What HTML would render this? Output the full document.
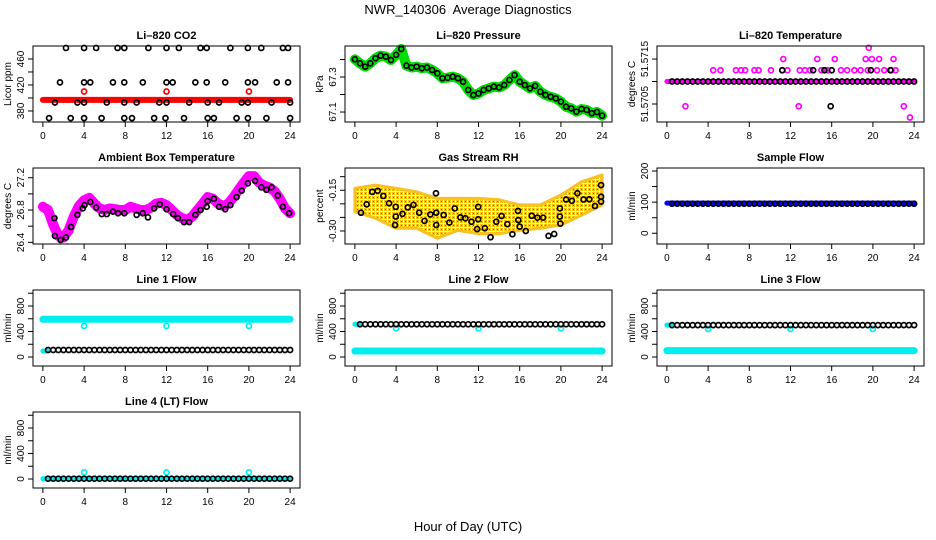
<!DOCTYPE html>
<html><head><meta charset="utf-8"><title>NWR_140306 Average Diagnostics</title>
<style>
html,body{margin:0;padding:0;background:#fff;}
svg{display:block;font-family:"Liberation Sans",Arial,sans-serif;}
</style></head>
<body>
<svg id="chart" width="936" height="540" viewBox="0 0 936 540" xmlns="http://www.w3.org/2000/svg">
<defs>
<pattern id="rhpat" width="4" height="4" patternUnits="userSpaceOnUse">
<rect width="4" height="4" fill="#fff4c0"/>
<rect x="0" y="0" width="3" height="3" fill="#f8c400"/>
<rect x="1" y="1" width="1" height="1" fill="#e83000"/>
</pattern>
</defs>
<rect x="0" y="0" width="936" height="540" fill="#fff"/>
<text x="468" y="14" text-anchor="middle" font-size="13" xml:space="preserve">NWR_140306  Average Diagnostics</text>
<text x="468" y="531" text-anchor="middle" font-size="13">Hour of Day (UTC)</text>
</svg>
<script>
// ---------- data ----------
const xTicks = [0,4,8,12,16,20,24];
const H49 = [0,0.5,1,1.5,2,2.5,3,3.5,4,4.5,5,5.5,6,6.5,7,7.5,8,8.5,9,9.5,10,10.5,11,11.5,12,12.5,13,13.5,14,14.5,15,15.5,16,16.5,17,17.5,18,18.5,19,19.5,20,20.5,21,21.5,22,22.5,23,23.5,24];
const halfHours = [0.5,1,1.5,2,2.5,3,3.5,4,4.5,5,5.5,6,6.5,7,7.5,8,8.5,9,9.5,10,10.5,11,11.5,12,12.5,13,13.5,14,14.5,15,15.5,16,16.5,17,17.5,18,18.5,19,19.5,20,20.5,21,21.5,22,22.5,23,23.5,24];
const bandHours = [0,4,8,12,16,20,24];
const spikeHours = [4,12,20];

// CO2
const co2RedBand = [397,397,397,397,397,397,397];
const co2RedSpike = [410,410,410];
const co2BlackHours = [2.24,4.0,5.17,7.25,7.9,10.24,12.0,13.2,15.3,15.9,18.2,19.9,21.2,23.3,23.8,
 1.66,4.0,4.6,6.8,7.9,9.7,12.0,12.6,14.8,15.9,17.7,19.9,20.6,22.7,23.8,
 1.17,3.35,4.0,6.2,7.9,9.1,11.3,12.0,14.2,16.0,17.1,19.3,19.9,22.2,24,
 0.6,2.7,4.0,5.7,7.9,8.65,10.8,11.9,13.7,16.0,16.6,18.8,19.9,21.7,24];
const co2BlackVals = [477,477,477,477,477,477,477,477,477,477,477,477,477,477,477,
 424,424,424,424,424,424,424,424,424,424,424,424,424,424,424,
 393,393,393,393,393,393,393,393,393,393,393,393,393,393,393,
 369,369,369,369,369,369,369,369,369,369,369,369,369,369,369];

// Pressure
const pressureVals = [67.401,67.378,67.359,67.378,67.407,67.422,67.416,67.397,67.426,67.460,67.365,67.354,67.359,67.350,67.354,67.340,67.321,67.293,67.296,67.302,67.293,67.273,67.226,67.197,67.206,67.226,67.235,67.245,67.240,67.254,67.283,67.311,67.273,67.254,67.235,67.249,67.216,67.197,67.187,67.178,67.159,67.130,67.121,67.102,67.117,67.112,67.093,67.100,67.079];

// Li-820 temperature
const tempBand = [51.571,51.571,51.571,51.571,51.571,51.571,51.571];
const tempBlack = [51.571,51.571,51.571,51.571,51.571,51.571,51.571,51.571,51.571,51.571,51.571,51.571,51.571,51.571,51.571,51.571,51.571,51.571,51.571,51.571,51.571,51.571,51.571,51.571,51.571,51.571,51.571,51.571,51.571,51.571,51.571,51.571,51.571,51.571,51.571,51.571,51.571,51.571,51.571,51.571,51.571,51.571,51.571,51.571,51.571,51.571,51.571,51.571];
const tempMagHours = [4.5,5.2,6.7,7.2,7.6,8.5,8.9,10.1,11.2,11.7,12.9,13.4,13.9,15.0,15.6,16.9,17.5,18.2,18.8,19.5,20.4,21.1,21.8,22.2,
 11.3,14.6,16.3,19.3,19.9,20.6,22.0, 19.6, 1.8,12.8,23.0, 23.6];
const tempMagVals = [51.57125,51.57125,51.57125,51.57125,51.57125,51.57125,51.57125,51.57125,51.57125,51.57125,51.57125,51.57125,51.57125,51.57125,51.57125,51.57125,51.57125,51.57125,51.57125,51.57125,51.57125,51.57125,51.57125,51.57125,
 51.5715,51.5715,51.5715,51.5715,51.5715,51.5715,51.5715, 51.57175, 51.57045,51.57045,51.57045, 51.5702];
const tempBlkHours = [11.2,14.2,15.3,16.0,19.8,21.7,15.9];
const tempBlkVals = [51.57125,51.57125,51.57125,51.57125,51.57125,51.57125,51.57045];

// Ambient box temperature
const ambBand = [26.84,26.80,26.62,26.48,26.46,26.55,26.72,26.85,26.92,26.95,26.88,26.82,26.80,26.82,26.81,26.80,26.80,26.84,26.82,26.80,26.80,26.83,26.88,26.89,26.86,26.80,26.74,26.70,26.68,26.72,26.80,26.88,26.96,26.94,26.88,26.85,26.88,26.96,27.05,27.14,27.22,27.22,27.14,27.10,27.08,27.03,26.94,26.82,26.76];
const ambHours = [1.12,1.17,1.72,2.24,2.73,3.35,3.87,4.04,4.6,5.17,5.72,6.2,6.8,7.3,7.9,9.1,9.7,10.2,10.8,11.35,12.0,12.65,13.1,13.7,14.2,14.8,15.3,15.9,16.0,16.6,17.1,17.7,18.2,18.8,19.3,19.9,20.6,21.2,21.7,22.2,22.8,23.3,23.9];
const ambVals = [26.70,26.48,26.43,26.46,26.59,26.74,26.82,26.86,26.90,26.83,26.75,26.75,26.78,26.76,26.76,26.74,26.76,26.71,26.82,26.87,26.81,26.75,26.70,26.65,26.65,26.74,26.80,26.84,26.91,26.94,26.84,26.81,26.86,26.96,27.04,27.13,27.16,27.08,27.05,27.08,26.98,26.84,26.76];

// Gas stream RH
const rhBandHours = [0,2,4,6,8,10,12,14,16,18,20,22,24];
const rhUpper = [-0.143,-0.131,-0.143,-0.156,-0.180,-0.180,-0.180,-0.185,-0.204,-0.204,-0.168,-0.119,-0.094];
const rhLower = [-0.229,-0.253,-0.290,-0.290,-0.327,-0.298,-0.310,-0.310,-0.298,-0.290,-0.278,-0.242,-0.204];
const rhHours = [0.59,1.14,1.69,2.21,2.76,3.32,3.97,3.97,3.9,4.62,5.14,5.69,6.24,6.76,7.32,7.87,7.9,7.9,8.62,9.17,9.69,10.24,10.73,11.32,11.87,11.97,11.97,12.62,13.17,13.73,14.24,14.8,15.29,15.83,15.86,16.0,16.59,17.17,17.72,18.27,18.8,19.35,19.9,19.9,19.95,20.5,21.07,21.6,22.2,22.76,23.3,23.9,23.9,23.9];
const rhVals = [-0.233,-0.202,-0.156,-0.152,-0.171,-0.198,-0.211,-0.247,-0.278,-0.237,-0.213,-0.204,-0.233,-0.263,-0.239,-0.161,-0.233,-0.278,-0.241,-0.269,-0.217,-0.250,-0.253,-0.266,-0.293,-0.211,-0.257,-0.290,-0.323,-0.266,-0.245,-0.275,-0.312,-0.226,-0.260,-0.284,-0.300,-0.244,-0.251,-0.251,-0.318,-0.311,-0.217,-0.247,-0.273,-0.184,-0.189,-0.161,-0.184,-0.183,-0.208,-0.131,-0.174,-0.192];

// Sample flow
const sampleBand = [97,97,97,97,97,97,97];
const sampleBlack = [95,95,95,95,95,95,95,95,95,95,95,95,95,95,95,95,95,95,95,95,95,95,95,95,95,95,95,95,95,95,95,95,95,95,95,95,95,95,95,95,95,95,95,95,95,95,95,95];

// Line flows
const l1Band = [591,591,591,591,591,591,591];
const l1Spike = [486,486,486];
const l1Black = [110,110,110,110,110,110,110,110,110,110,110,110,110,110,110,110,110,110,110,110,110,110,110,110,110,110,110,110,110,110,110,110,110,110,110,110,110,110,110,110,110,110,110,110,110,110,110,110];
const l2Band = [94,94,94,94,94,94,94];
const l2Spike = [450,450,450];
const l2Black = [513,513,513,513,513,513,513,513,513,513,513,513,513,513,513,513,513,513,513,513,513,513,513,513,513,513,513,513,513,513,513,513,513,513,513,513,513,513,513,513,513,513,513,513,513,513,513,513];
const l3Band = [100,100,100,100,100,100,100];
const l3Spike = [440,440,440];
const l3Black = [500,500,500,500,500,500,500,500,500,500,500,500,500,500,500,500,500,500,500,500,500,500,500,500,500,500,500,500,500,500,500,500,500,500,500,500,500,500,500,500,500,500,500,500,500,500,500,500];
const l4Band = [5,5,5,5,5,5,5];
const l4Spike = [105,105,105];
const l4Black = [5,5,5,5,5,5,5,5,5,5,5,5,5,5,5,5,5,5,5,5,5,5,5,5,5,5,5,5,5,5,5,5,5,5,5,5,5,5,5,5,5,5,5,5,5,5,5,5];

const flowTicks = [0,200,400,600,800,1000];
const flowLabels = ['0','','400','','800',''];

// ---------- drawing ----------
const NS = 'http://www.w3.org/2000/svg';
const svg = document.getElementById('chart');
function mk(tag, attrs, parent){
  const e = document.createElementNS(NS, tag);
  for (const k in attrs) e.setAttribute(k, attrs[k]);
  (parent || svg).appendChild(e);
  return e;
}

function makePanel(i, slug, title, ylab, ymin, ymax, ticks, labels){
  const col = i % 3, row = Math.floor(i / 3);
  const L = 33 + 312 * col, W = 267, T = 46 + 122 * row, Hh = 76, B = T + Hh;
  const sx = h => L + (h + 0.96) / 25.92 * W;
  const sy = v => B - (v - ymin) / (ymax - ymin) * Hh;
  const g = mk('g', {});
  
  
  const t = mk('text', {x: L + W / 2, y: T - 7, 'text-anchor': 'middle', 'font-size': 11, 'font-weight': 'bold'}, g);
  
  
  t.textContent = title;
  const xa = mk('g', {stroke: '#000', 'stroke-width': 1}, g);
  
  
  xTicks.forEach(h => {
    const tk = mk('line', {x1: sx(h), x2: sx(h), y1: B, y2: B + 5}, xa);
    
    
    const tl = mk('text', {x: sx(h), y: B + 17, 'text-anchor': 'middle', 'font-size': 10, stroke: 'none', fill: '#000'}, xa);
    
    
    tl.textContent = String(h);
  });
  const ya = mk('g', {stroke: '#000', 'stroke-width': 1}, g);
  
  
  ticks.forEach((v, k) => {
    const y = sy(v);
    const tk = mk('line', {x1: L - 5, x2: L, y1: y, y2: y}, ya);
    
    
    if (labels[k]) {
      const tl = mk('text', {x: L - 9, y: y, transform: 'rotate(-90 ' + (L - 9) + ' ' + y + ')', 'text-anchor': 'middle', 'font-size': 10, stroke: 'none', fill: '#000'}, ya);
      
      
      tl.textContent = labels[k];
    }
  });
  const yl = mk('text', {x: L - 22, y: T + Hh / 2, transform: 'rotate(-90 ' + (L - 22) + ' ' + (T + Hh / 2) + ')', 'text-anchor': 'middle', 'font-size': 10}, g);
  
  
  yl.textContent = ylab;
  const marks = mk('g', {}, g);
  
  
  const box = mk('rect', {x: L, y: T, width: W, height: Hh, fill: 'none', stroke: '#000', 'stroke-width': 1}, g);
  
  
  return {g: marks, sx, sy};
}

function band(p, xs, ys, color, width, name){
  const pts = xs.map((x, k) => p.sx(x).toFixed(1) + ',' + p.sy(ys[k]).toFixed(1)).join(' ');
  const e = mk('polyline', {points: pts, fill: 'none', stroke: color, 'stroke-width': width, 'stroke-linejoin': 'round', 'stroke-linecap': 'round'}, p.g);
  
  
}
function circles(p, xs, ys, color, name){
  const gg = mk('g', {fill: 'none', stroke: color, 'stroke-width': 1.7}, p.g);
  
  
  xs.forEach((x, k) => {
    const c = mk('circle', {cx: p.sx(x), cy: p.sy(ys[k]), r: 2.5}, gg);
    
    
  });
}

// Panel 0: CO2
let p = makePanel(0, 'co2', 'Li\u2013820 CO2', 'Licor ppm', 363, 480, [380,400,420,440,460], ['380','','420','','460']);
band(p, bandHours, co2RedBand, '#ff0000', 6, 'co2-red-series');
circles(p, spikeHours, co2RedSpike, '#ff0000', 'co2-red-spikes');
circles(p, co2BlackHours, co2BlackVals, '#000', 'co2-black-series');

// Panel 1: Pressure
p = makePanel(1, 'pressure', 'Li\u2013820 Pressure', 'kPa', 67.043, 67.477, [67.1,67.2,67.3,67.4], ['67.1','','67.3','']);
band(p, H49, pressureVals, '#00dd00', 10, 'pressure-green-series');
circles(p, H49, pressureVals, '#000', 'pressure-black-series');

// Panel 2: Li-820 temperature
p = makePanel(2, 'licor-temp', 'Li\u2013820 Temperature', 'degrees C', 51.5701, 51.57179, [51.5705,51.571,51.5715], ['51.5705','','51.5715']);
band(p, bandHours, tempBand, '#ff00ff', 5, 'licor-temp-magenta-series');
circles(p, tempMagHours, tempMagVals, '#ff00ff', 'licor-temp-magenta-outliers');
circles(p, halfHours, tempBlack, '#000', 'licor-temp-black-series');
circles(p, tempBlkHours, tempBlkVals, '#000', 'licor-temp-black-outliers');

// Panel 3: Ambient box temp
p = makePanel(3, 'ambient', 'Ambient Box Temperature', 'degrees C', 26.38, 27.32, [26.4,26.6,26.8,27.0,27.2], ['26.4','','26.8','','27.2']);
band(p, H49, ambBand, '#ff00ff', 10, 'ambient-magenta-series');
circles(p, ambHours, ambVals, '#000', 'ambient-black-series');

// Panel 4: RH
p = makePanel(4, 'rh', 'Gas Stream RH', 'percent', -0.348, -0.068, [-0.10,-0.15,-0.20,-0.25,-0.30], ['','-0.15','','','-0.30']);
{
  const up = rhBandHours.map((h, k) => p.sx(h).toFixed(1) + ',' + p.sy(rhUpper[k]).toFixed(1));
  const lo = rhBandHours.map((h, k) => p.sx(h).toFixed(1) + ',' + p.sy(rhLower[k]).toFixed(1)).reverse();
  const poly = mk('polygon', {points: up.concat(lo).join(' '), fill: 'url(#rhpat)', stroke: '#f8c020', 'stroke-width': 3, 'stroke-linejoin': 'round'}, p.g);
  
  
}
circles(p, rhHours, rhVals, '#000', 'rh-black-series');

// Panel 5: Sample flow
p = makePanel(5, 'sample-flow', 'Sample Flow', 'ml/min', -34.5, 209.7, [0,50,100,150,200], ['0','','100','','200']);
band(p, bandHours, sampleBand, '#0000ff', 5, 'sample-flow-blue-series');
circles(p, halfHours, sampleBlack, '#000', 'sample-flow-black-series');

// Panels 6-9: line flows
p = makePanel(6, 'line1', 'Line 1 Flow', 'ml/min', -141, 1051, flowTicks, flowLabels);
band(p, bandHours, l1Band, '#00eeee', 7, 'line1-cyan-series');
circles(p, spikeHours, l1Spike, '#00eeee', 'line1-cyan-spikes');
band(p, [0,0.4], [94,94], '#00eeee', 5, 'line1-cyan-start');
circles(p, halfHours, l1Black, '#000', 'line1-black-series');

p = makePanel(7, 'line2', 'Line 2 Flow', 'ml/min', -141, 1051, flowTicks, flowLabels);
band(p, bandHours, l2Band, '#00eeee', 7, 'line2-cyan-series');
circles(p, spikeHours, l2Spike, '#00eeee', 'line2-cyan-spikes');
band(p, [0,0.4], [513,513], '#00eeee', 5, 'line2-cyan-start');
circles(p, halfHours, l2Black, '#000', 'line2-black-series');

p = makePanel(8, 'line3', 'Line 3 Flow', 'ml/min', -141, 1051, flowTicks, flowLabels);
band(p, bandHours, l3Band, '#00eeee', 7, 'line3-cyan-series');
circles(p, spikeHours, l3Spike, '#00eeee', 'line3-cyan-spikes');
band(p, [0,0.4], [500,500], '#00eeee', 5, 'line3-cyan-start');
circles(p, halfHours, l3Black, '#000', 'line3-black-series');

p = makePanel(9, 'line4', 'Line 4 (LT) Flow', 'ml/min', -141, 1051, flowTicks, flowLabels);
band(p, bandHours, l4Band, '#00eeee', 5, 'line4-cyan-series');
circles(p, spikeHours, l4Spike, '#00eeee', 'line4-cyan-spikes');
circles(p, halfHours, l4Black, '#000', 'line4-black-series');
</script>
</body></html>
